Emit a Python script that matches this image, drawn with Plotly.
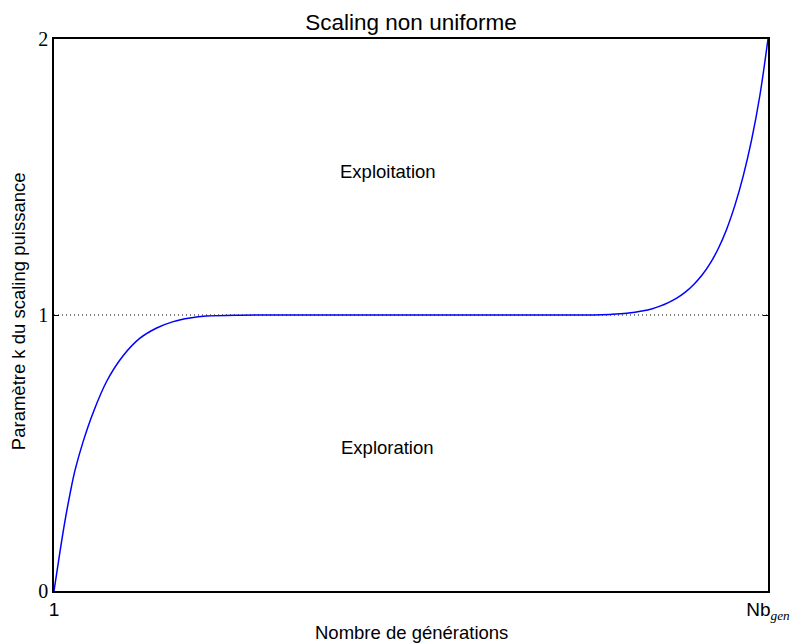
import plotly.graph_objects as go

# Power-scaling parameter k along the generations (1 .. Nb_gen)
nb_gen = 100
generations = [1, 1.83, 2.53, 3.22, 3.91, 5.06, 6.45, 8.31, 10.61, 12.92, 15.24,
               17.54, 19.86, 22.17, 26.79, 35.11, 48.98, 62.84, 75.78, 78.09,
               80.41, 82.71, 83.87, 85.02, 86.18, 87.34, 88.49, 89.64, 90.81,
               91.96, 93.11, 94.27, 95.43, 96.57, 97.74, 98.89, 100]
k_values = [0.0, 0.143, 0.255, 0.352, 0.437, 0.543, 0.648, 0.760, 0.853, 0.916,
            0.953, 0.976, 0.989, 0.996, 0.9995, 1.0, 1.0, 1.0, 1.0, 1.002,
            1.006, 1.015, 1.022, 1.032, 1.045, 1.061, 1.082, 1.109, 1.143,
            1.186, 1.241, 1.311, 1.399, 1.504, 1.636, 1.798, 2.0]

x_tick_vals = [1, nb_gen]
x_tick_text = ["1", "Nb<sub><i><span style='font-family:Liberation Serif'>gen</span></i></sub>"]
y_tick_vals = [0, 1, 2]
y_tick_text = ["0", "1", "2"]

# Region labels above and below the neutral level
regions = [("Exploitation", 1.52), ("Exploration", 0.52)]
region_x = 47.3

sans = "Liberation Sans, Arial, sans-serif"
serif = "Liberation Serif, DejaVu Serif, serif"

fig = go.Figure()
fig.add_trace(go.Scatter(
    x=generations, y=k_values, mode="lines",
    line=dict(color="#0000ff", width=1.5, shape="spline", smoothing=1.0),
    hoverinfo="skip", showlegend=False,
))

# Neutral level k = 1
fig.add_shape(type="line", xref="x", yref="y", x0=1, x1=nb_gen, y0=1, y1=1,
              line=dict(color="black", width=1, dash="1px,3px"), layer="below")

for label, level in regions:
    fig.add_annotation(x=region_x, y=level, text=label, showarrow=False,
                       font=dict(family=sans, size=18.5, color="black"))

# Axis titles
fig.add_annotation(xref="paper", yref="paper", x=0.5, y=-0.076,
                   text="Nombre de générations", showarrow=False,
                   xanchor="center", yanchor="middle",
                   font=dict(family=sans, size=18.5, color="black"))
fig.add_annotation(xref="paper", yref="paper", x=-0.0504, y=0.507,
                   text="Paramètre k du scaling puissance", showarrow=False,
                   textangle=-90, xanchor="center", yanchor="middle",
                   font=dict(family=sans, size=18.5, color="black"))

axis_common = dict(showline=True, linecolor="black", linewidth=1.5, mirror="ticks",
                   ticks="inside", ticklen=5, tickwidth=1, tickcolor="black",
                   showgrid=False, zeroline=False, automargin=False)

fig.update_xaxes(range=[1, nb_gen], tickvals=x_tick_vals, ticktext=x_tick_text,
                 tickfont=dict(family=sans, size=19, color="black"),
                 **axis_common)
fig.update_yaxes(range=[0, 2], tickvals=y_tick_vals, ticktext=y_tick_text,
                 tickfont=dict(family=serif, size=20, color="black"),
                 **axis_common)

fig.update_layout(
    width=792, height=644,
    margin=dict(l=54, r=24, t=39, b=53),
    paper_bgcolor="white", plot_bgcolor="white",
    title=dict(text="Scaling non uniforme", x=0.5, xanchor="center",
               y=1 - 22 / 644, yanchor="middle",
               xref="paper",
               font=dict(family=sans, size=22.5, color="black")),
)

fig.write_html("out.html")
